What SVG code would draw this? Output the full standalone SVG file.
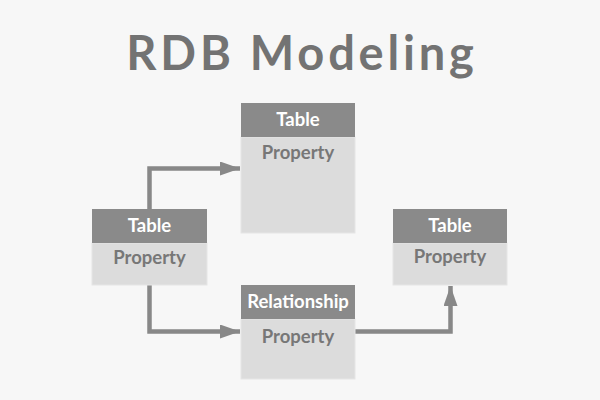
<svg xmlns="http://www.w3.org/2000/svg" width="600" height="400" viewBox="0 0 600 400">
<defs>
<style>
.hd{fill:#8a8a8a}
.bd{fill:#dcdcdc;stroke:#e6e6e6;stroke-width:1}
.ht{font-family:Lato,"Open Sans",sans-serif;font-weight:bold;font-size:18.5px;fill:#ffffff;text-anchor:middle}
.pt{font-family:Lato,"Open Sans",sans-serif;font-weight:bold;font-size:18.5px;fill:#777777;text-anchor:middle}
.ln{fill:none;stroke:#888888;stroke-width:4.5}
</style>
<marker id="ah" markerUnits="userSpaceOnUse" markerWidth="22" markerHeight="14" refX="20" refY="7" orient="auto">
<path d="M0,0 L20,7 L0,14 Z" fill="#888888"/>
</marker>
</defs>
<rect width="600" height="400" fill="#f7f7f7"/>
<text x="302" y="70" font-family="Lato,'Open Sans',sans-serif" font-weight="bold" font-size="47" letter-spacing="3.8" fill="#737373" text-anchor="middle">RDB Modeling</text>
<g id="connectors">
<path class="ln" d="M149.5,209 V168.5 H240" marker-end="url(#ah)"/>
<path class="ln" d="M149.5,285 V331.5 H240" marker-end="url(#ah)"/>
<path class="ln" d="M355,331.5 H450.5 V286" marker-end="url(#ah)"/>
</g>
<g id="table-top">
<rect class="bd" x="241" y="137" width="114" height="96"/>
<rect class="hd" x="241" y="103" width="114" height="34"/>
<text class="ht" x="298" y="126">Table</text>
<text class="pt" x="298" y="159">Property</text>
</g>
<g id="table-left">
<rect class="bd" x="92" y="243" width="115" height="42"/>
<rect class="hd" x="92" y="209" width="115" height="34"/>
<text class="ht" x="149.5" y="232">Table</text>
<text class="pt" x="149.5" y="264">Property</text>
</g>
<g id="relationship">
<rect class="bd" x="241" y="319" width="114" height="60"/>
<rect class="hd" x="241" y="285" width="114" height="34"/>
<text class="ht" x="298" y="308">Relationship</text>
<text class="pt" x="298" y="343">Property</text>
</g>
<g id="table-right">
<rect class="bd" x="393" y="243" width="114" height="42"/>
<rect class="hd" x="393" y="209" width="114" height="34"/>
<text class="ht" x="450" y="232">Table</text>
<text class="pt" x="450" y="263">Property</text>
</g>
</svg>
